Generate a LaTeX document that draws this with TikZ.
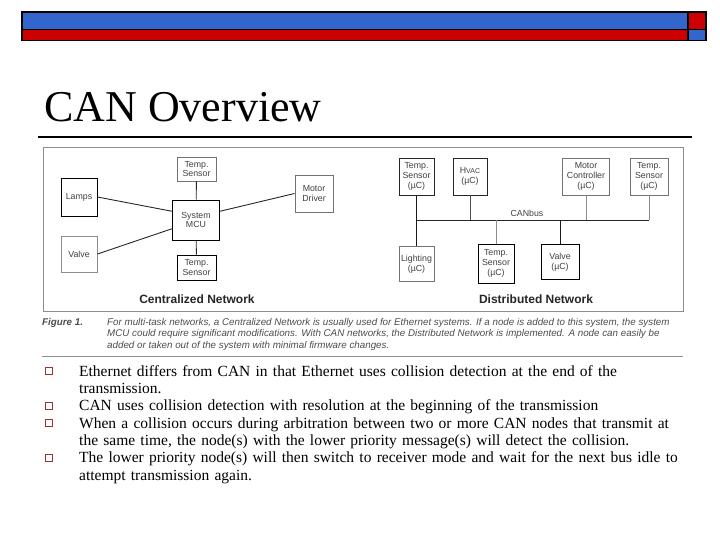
\documentclass[tikz,border=0pt]{standalone}
\usepackage{fontspec}
\setmainfont{Liberation Serif}
\setsansfont{Liberation Sans}
\newfontfamily\bodyfont[WordSpace=1.35]{Liberation Serif}
\usetikzlibrary{positioning}
\definecolor{barblue}{HTML}{3366CC}
\definecolor{barred}{HTML}{CC0000}
\definecolor{bullred}{HTML}{993333}
\definecolor{figgray}{gray}{0.55}
\tikzset{unit/.style={draw=#1,line width=.9pt,fill=white,align=center,inner sep=0pt,font=\sffamily\fontsize{8.8}{9.8}\selectfont,text=black!75},stripe/.style={draw=black,line width=1.2pt},wire/.style={line width=.9pt,draw=#1},nettitle/.style={font=\sffamily\bfseries\fontsize{12}{14}\selectfont,text=black!85},capline/.style={anchor=base west,font=\sffamily\itshape\fontsize{9.8}{11}\selectfont,text=black!70,inner sep=0pt},bodyline/.style={anchor=base west,font=\bodyfont\fontsize{15.5}{17}\selectfont,inner sep=0pt},bul/.style={draw=bullred,line width=.6pt,minimum size=7pt,inner sep=0pt}}

\begin{document}
\begin{tikzpicture}[x=1pt,y=-1pt]
\path[use as bounding box] (0,0) rectangle (720,540);
\filldraw[stripe,fill=barblue] (22,12) rectangle (688,29.5);
\filldraw[stripe,fill=barred] (22,29.5) rectangle (688,40.5);
\filldraw[stripe,fill=barred] (688,12) rectangle (706,29.5);
\filldraw[stripe,fill=barblue] (688,29.5) rectangle (706,40.5);
\node[anchor=base west,inner sep=0pt,font=\fontsize{44}{44}\selectfont] (title) at (44,122) {CAN Overview};
\draw[line width=2.4pt] (38,137) -- (692,137);
\draw[figgray,line width=.6pt] (43,147) rectangle (683,311);
% centralized
\node[unit=black,minimum width=36pt,minimum height=38pt] (lamps) at (79,197) {Lamps};
\node[unit=black!45,minimum width=36pt,minimum height=36pt] (valve) at (79,254) {Valve};
\node[unit=black!55,minimum width=39pt,minimum height=24pt] (tsA) at (196.5,169) {Temp.\\Sensor};
\node[unit=black,minimum width=47pt,minimum height=40pt] (mcu) at (196,220) {System\\MCU};
\node[unit=black,minimum width=39pt,minimum height=25pt] (tsB) at (196.5,267.5) {Temp.\\Sensor};
\node[unit=black!55,minimum width=38pt,minimum height=37pt] (motor) at (314,193.5) {Motor\\Driver};
\draw[wire=black!85] (lamps.east) -- (mcu.160);
\draw[wire=black!85] (valve.east) -- (mcu.200);
\draw[wire=black!85] (mcu.20) -- (motor.west);
\draw[wire=black!85] (tsA) -- (mcu);
\draw[wire=black!85] (mcu) -- (tsB);
\node[nettitle] (cname) at (197,299) {Centralized Network};
% distributed
\coordinate (busL) at (416.5,220);
\coordinate (busR) at (649,220);
\draw[wire=black!85] (busL) -- (busR);
\node[unit=black!85,minimum width=35pt,minimum height=37pt] (dtsA) at (416.5,176.5) {Temp.\\Sensor\\(µC)};
\node[unit=black!85,minimum width=34pt,minimum height=37pt] (hvac) at (470,176.5) {H{\fontsize{7}{8}\selectfont VAC}\\(µC)};
\node[unit=black!55,minimum width=47pt,minimum height=37pt] (mctl) at (586,176.5) {Motor\\Controller\\(µC)};
\node[unit=black!55,minimum width=38pt,minimum height=37pt] (dtsB) at (649,176.5) {Temp.\\Sensor\\(µC)};
\node[unit=black!55,minimum width=35pt,minimum height=35pt] (light) at (416.5,264) {Lighting\\(µC)};
\node[unit=black,minimum width=36pt,minimum height=39pt] (dtsC) at (496,263.5) {Temp.\\Sensor\\(µC)};
\node[unit=black,minimum width=38pt,minimum height=35pt] (dvalve) at (560,262) {Valve\\(µC)};
\draw[wire=black!90] (dtsA) -- (light);
\draw[wire=black!70] (hvac) -- (hvac |- busL);
\draw[wire=black!45] (mctl) -- (mctl |- busL);
\draw[wire=black!45] (dtsB) -- (busR);
\draw[wire=black!45] (dtsC) -- (dtsC |- busL);
\draw[wire=black!90] (dvalve) -- (dvalve |- busL);
\node[font=\sffamily\fontsize{8.8}{9.8}\selectfont,text=black!75] (bus) at (527,213) {CANbus};
\node[nettitle] (dname) at (536,299) {Distributed Network};
% caption
\node[capline,font=\sffamily\itshape\bfseries\fontsize{9.8}{11}\selectfont] (fig) at (42,325) {Figure 1.};
\node[capline] (c1) at (107,325) {For multi-task networks, a Centralized Network is usually used for Ethernet systems. If a node is added to this system, the system};
\node[capline] (c2) at (107,336.5) {MCU could require significant modifications. With CAN networks, the Distributed Network is implemented. A node can easily be};
\node[capline] (c3) at (107,348) {added or taken out of the system with minimal firmware changes.};
\draw[figgray,line width=.6pt] (42,356) -- (683,356);
% bullets
\foreach \name/\yy in {b1/371,b2/405.7,b3/423,b4/457.7}{
\node[bul] (\name) at (48.5,\yy) {};
}
\node[bodyline] (l1) at (79,376) {Ethernet differs from CAN in that Ethernet uses collision detection at the end of the};
\node[bodyline] (l2) at (79,393.3) {transmission.};
\node[bodyline] (l3) at (79,410.7) {CAN uses collision detection with resolution at the beginning of the transmission};
\node[bodyline] (l4) at (79,428) {When a collision occurs during arbitration between two or more CAN nodes that transmit at};
\node[bodyline] (l5) at (79,445.3) {the same time, the node(s) with the lower priority message(s) will detect the collision.};
\node[bodyline] (l6) at (79,462.7) {The lower priority node(s) will then switch to receiver mode and wait for the next bus idle to};
\node[bodyline] (l7) at (79,480) {attempt transmission again.};
\end{tikzpicture}
\end{document}
